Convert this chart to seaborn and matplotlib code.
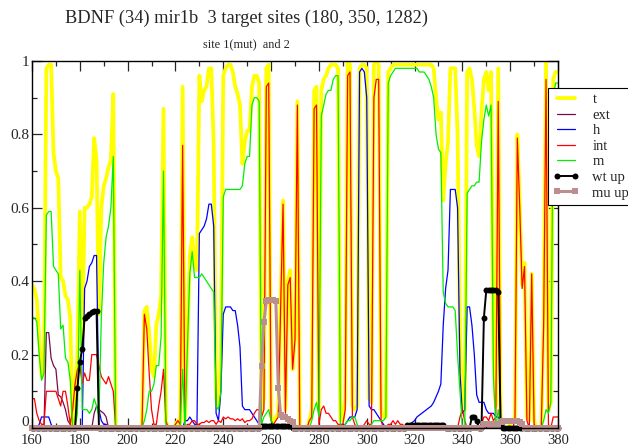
import numpy as np
import pandas as pd
import seaborn as sns
import matplotlib.pyplot as plt
from matplotlib.ticker import MultipleLocator, FuncFormatter
from matplotlib.transforms import offset_copy

# position along the sequence, one value per step (160 ... 380)
x = list(range(160, 381))

# t (total)
t = [
    0.39, 0.38, 0.35, 0.25, 0.14, 0.16, 0.98, 0.99, 0.99, 0.75,   # 160
    0.70, 0.68, 0.41, 0.40, 0.36, 0.35, 0.30, 0.0, 0.12, 0.20,    # 170
    0.59, 0.22, 0.60, 0.60, 0.61, 0.63, 0.79, 0.73, 0.31, 0.60,   # 180
    0.66, 0.68, 0.71, 0.73, 0.91, 0.0, 0.0, 0.0, 0.0, 0.0,        # 190
    0.0, 0.0, 0.0, 0.0, 0.0, 0.0, 0.0, 0.32, 0.33, 0.26,          # 200
    0.16, 0.14, 0.28, 0.31, 0.36, 0.87, 0.02, 0.0, 0.0, 0.0,      # 210
    0.01, 0.02, 0.01, 0.93, 0.02, 0.25, 0.47, 0.52, 0.44, 0.43,   # 220
    0.96, 0.89, 0.92, 0.93, 0.98, 0.98, 0.77, 0.08, 0.06, 0.20,   # 230
    0.96, 0.98, 0.99, 0.99, 0.97, 0.93, 0.91, 0.88, 0.72, 0.78,   # 240
    0.81, 0.81, 0.93, 0.96, 0.96, 0.94, 0.04, 0.08, 0.98, 0.99,   # 250
    0.03, 0.02, 0.03, 0.04, 0.35, 0.62, 0.05, 0.40, 0.43, 0.16,   # 260
    0.25, 0.89, 0.0, 0.0, 0.0, 0.0, 0.02, 0.05, 0.92, 0.93,       # 270
    0.05, 0.92, 0.95, 0.96, 0.98, 0.99, 0.99, 0.99, 0.98, 0.02,   # 280
    0.02, 0.08, 1.0, 0.99, 0.06, 0.05, 0.06, 0.98, 0.99, 0.99,    # 290
    0.98, 0.08, 0.07, 0.99, 1.0, 0.99, 0.05, 0.03, 0.03, 0.97,    # 300
    0.98, 0.99, 0.99, 0.99, 0.99, 0.99, 0.99, 0.99, 0.99, 0.99,   # 310
    0.99, 0.99, 0.99, 0.99, 0.99, 0.99, 0.99, 0.99, 0.98, 0.90,   # 320
    0.84, 0.86, 0.62, 0.72, 0.78, 0.98, 0.98, 0.98, 0.80, 0.25,   # 330
    0.06, 0.05, 0.97, 0.98, 0.95, 0.87, 0.77, 0.74, 0.86, 0.95,   # 340
    0.97, 0.92, 0.97, 0.20, 0.06, 0.98, 0.03, 0.0, 0.0, 0.0,      # 350
    0.01, 0.02, 0.03, 0.80, 0.61, 0.39, 0.45, 0.03, 0.02, 0.42,   # 360
    0.02, 0.0, 0.0, 0.0, 0.30, 1.0, 0.05, 0.07, 0.95, 0.97,       # 370
    0.97,
]

ext = [
    0.0, 0.0, 0.0, 0.0, 0.0, 0.0, 0.26, 0.26, 0.19, 0.17,
    0.16, 0.09, 0.085, 0.07, 0.05, 0.02, 0.01, 0.0, 0.0, 0.0,
    0.0, 0.0, 0.0, 0.0, 0.0, 0.0, 0.04, 0.06, 0.05, 0.045,
    0.04, 0.03, 0.0, 0.0, 0.0, 0.0, 0.0, 0.0, 0.0, 0.0,
    0.0, 0.0, 0.0, 0.0, 0.0, 0.0, 0.0, 0.0, 0.0, 0.0,
    0.0, 0.0, 0.0, 0.0, 0.0, 0.0, 0.0, 0.0, 0.0, 0.0,
    0.0, 0.0, 0.0, 0.0, 0.0, 0.0, 0.0, 0.0, 0.0, 0.0,
    0.0, 0.0, 0.0, 0.0, 0.0, 0.0, 0.0, 0.0, 0.0, 0.0,
    0.0, 0.0, 0.0, 0.0, 0.0, 0.0, 0.0, 0.0, 0.0, 0.0,
    0.0, 0.0, 0.0, 0.0, 0.0, 0.0, 0.0, 0.0, 0.0, 0.0,
    0.0, 0.0, 0.0, 0.0, 0.0, 0.0, 0.0, 0.0, 0.0, 0.0,
    0.0, 0.0, 0.0, 0.0, 0.0, 0.0, 0.0, 0.0, 0.0, 0.0,
    0.0, 0.0, 0.0, 0.0, 0.0, 0.0, 0.0, 0.0, 0.0, 0.0,
    0.0, 0.0, 0.0, 0.0, 0.0, 0.0, 0.0, 0.0, 0.0, 0.0,
    0.0, 0.0, 0.0, 0.0, 0.0, 0.0, 0.0, 0.0, 0.0, 0.0,
    0.0, 0.0, 0.0, 0.0, 0.0, 0.0, 0.0, 0.0, 0.0, 0.0,
    0.0, 0.0, 0.0, 0.0, 0.0, 0.0, 0.0, 0.0, 0.0, 0.0,
    0.0, 0.0, 0.0, 0.0, 0.0, 0.0, 0.0, 0.0, 0.0, 0.0,
    0.0, 0.0, 0.0, 0.0, 0.0, 0.0, 0.0, 0.0, 0.0, 0.0,
    0.0, 0.0, 0.0, 0.0, 0.0, 0.0, 0.0, 0.0, 0.0, 0.0,
    0.0, 0.0, 0.0, 0.0, 0.0, 0.0, 0.0, 0.0, 0.0, 0.0,
    0.0, 0.0, 0.0, 0.0, 0.0, 0.0, 0.0, 0.0, 0.0, 0.0,
    0.0,
]

h = [
    0.0, 0.0, 0.0, 0.01, 0.03, 0.03, 0.03, 0.03, 0.01, 0.0,
    0.0, 0.0, 0.0, 0.0, 0.0, 0.0, 0.0, 0.0, 0.0, 0.0,
    0.0, 0.0, 0.38, 0.40, 0.44, 0.45, 0.47, 0.47, 0.05, 0.02,
    0.01, 0.01, 0.0, 0.0, 0.0, 0.0, 0.0, 0.0, 0.0, 0.0,
    0.0, 0.0, 0.0, 0.0, 0.0, 0.0, 0.0, 0.0, 0.0, 0.0,
    0.0, 0.0, 0.0, 0.0, 0.0, 0.0, 0.0, 0.0, 0.0, 0.0,
    0.0, 0.0, 0.0, 0.0, 0.02, 0.02, 0.03, 0.02, 0.01, 0.01,
    0.53, 0.54, 0.55, 0.57, 0.61, 0.61, 0.55, 0.04, 0.02, 0.10,
    0.31, 0.33, 0.33, 0.33, 0.32, 0.32, 0.28, 0.22, 0.06, 0.05,
    0.05, 0.05, 0.04, 0.03, 0.02, 0.01, 0.0, 0.0, 0.0, 0.0,
    0.0, 0.0, 0.0, 0.0, 0.0, 0.0, 0.0, 0.0, 0.0, 0.0,
    0.0, 0.0, 0.0, 0.0, 0.0, 0.0, 0.0, 0.0, 0.0, 0.0,
    0.0, 0.0, 0.0, 0.0, 0.0, 0.0, 0.0, 0.0, 0.0, 0.0,
    0.0, 0.01, 0.02, 0.03, 0.03, 0.03, 0.05, 0.97, 0.98, 0.97,
    0.90, 0.06, 0.05, 0.05, 0.04, 0.03, 0.02, 0.01, 0.0, 0.0,
    0.0, 0.0, 0.0, 0.0, 0.0, 0.0, 0.0, 0.005, 0.01, 0.015,
    0.02, 0.03, 0.035, 0.04, 0.045, 0.05, 0.055, 0.06, 0.07, 0.085,
    0.10, 0.12, 0.28, 0.38, 0.43, 0.65, 0.65, 0.65, 0.60, 0.15,
    0.04, 0.05, 0.33, 0.33, 0.28, 0.20, 0.09, 0.07, 0.07, 0.07,
    0.05, 0.04, 0.04, 0.04, 0.03, 0.03, 0.02, 0.0, 0.0, 0.0,
    0.0, 0.0, 0.0, 0.0, 0.0, 0.0, 0.0, 0.0, 0.0, 0.0,
    0.0, 0.0, 0.0, 0.0, 0.0, 0.0, 0.0, 0.0, 0.0, 0.0,
    0.0,
]

int_ = [
    0.08, 0.08, 0.04, 0.02, 0.01, 0.01, 0.10, 0.10, 0.10, 0.10,
    0.10, 0.08, 0.06, 0.10, 0.10, 0.06, 0.01, 0.05, 0.12, 0.16,
    0.17, 0.12, 0.15, 0.13, 0.13, 0.20, 0.20, 0.20, 0.17, 0.14,
    0.13, 0.12, 0.14, 0.12, 0.10, 0.0, 0.0, 0.0, 0.0, 0.0,
    0.0, 0.0, 0.0, 0.0, 0.0, 0.0, 0.0, 0.31, 0.27, 0.15,
    0.05, 0.01, 0.01, 0.06, 0.10, 0.16, 0.02, 0.0, 0.0, 0.0,
    0.01, 0.02, 0.01, 0.77, 0.0, 0.01, 0.01, 0.02, 0.02, 0.01,
    0.01, 0.015, 0.015, 0.02, 0.015, 0.02, 0.02, 0.01, 0.02, 0.015,
    0.03, 0.025, 0.03, 0.025, 0.025, 0.02, 0.025, 0.02, 0.025, 0.015,
    0.02, 0.02, 0.025, 0.04, 0.05, 0.05, 0.03, 0.05, 0.93, 0.94,
    0.02, 0.01, 0.02, 0.03, 0.33, 0.61, 0.04, 0.39, 0.41, 0.16,
    0.24, 0.88, 0.0, 0.0, 0.0, 0.0, 0.02, 0.03, 0.87, 0.88,
    0.01, 0.05, 0.06, 0.04, 0.04, 0.03, 0.02, 0.02, 0.01, 0.01,
    0.01, 0.05, 0.96, 0.97, 0.03, 0.01, 0.0, 0.0, 0.0, 0.01,
    0.02, 0.01, 0.01, 0.90, 0.95, 0.95, 0.02, 0.0, 0.0, 0.01,
    0.01, 0.02, 0.01, 0.02, 0.01, 0.01, 0.0, 0.0, 0.0, 0.0,
    0.0, 0.0, 0.0, 0.0, 0.0, 0.0, 0.0, 0.0, 0.0, 0.0,
    0.0, 0.0, 0.0, 0.0, 0.0, 0.0, 0.0, 0.0, 0.0, 0.03,
    0.05, 0.02, 0.0, 0.0, 0.0, 0.0, 0.0, 0.0, 0.01, 0.03,
    0.03, 0.02, 0.04, 0.02, 0.03, 0.89, 0.01, 0.0, 0.0, 0.0,
    0.0, 0.0, 0.02, 0.79, 0.60, 0.38, 0.44, 0.02, 0.0, 0.42,
    0.01, 0.0, 0.0, 0.0, 0.28, 0.95, 0.01, 0.0, 0.03, 0.03,
    0.03,
]

m = [
    0.30, 0.30, 0.29, 0.20, 0.13, 0.15, 0.58, 0.59, 0.59, 0.44,
    0.43, 0.42, 0.27, 0.28, 0.19, 0.18, 0.13, 0.0, 0.0, 0.04,
    0.43, 0.05, 0.05, 0.05, 0.04, 0.05, 0.08, 0.06, 0.03, 0.30,
    0.45, 0.52, 0.55, 0.60, 0.74, 0.0, 0.0, 0.0, 0.0, 0.0,
    0.0, 0.0, 0.0, 0.0, 0.0, 0.0, 0.0, 0.02, 0.05, 0.10,
    0.10, 0.12, 0.17, 0.17, 0.25, 0.70, 0.0, 0.0, 0.0, 0.0,
    0.0, 0.0, 0.0, 0.16, 0.0, 0.22, 0.42, 0.48, 0.41, 0.41,
    0.41, 0.42, 0.41, 0.40, 0.39, 0.38, 0.37, 0.06, 0.05, 0.10,
    0.63, 0.65, 0.65, 0.65, 0.65, 0.65, 0.65, 0.65, 0.66, 0.72,
    0.74, 0.74, 0.88, 0.90, 0.90, 0.89, 0.01, 0.03, 0.04, 0.05,
    0.02, 0.01, 0.0, 0.0, 0.0, 0.0, 0.0, 0.0, 0.0, 0.0,
    0.0, 0.0, 0.0, 0.0, 0.0, 0.0, 0.0, 0.02, 0.05, 0.07,
    0.03, 0.85, 0.88, 0.91, 0.92, 0.92, 0.95, 0.96, 0.96, 0.0,
    0.0, 0.01, 0.02, 0.02, 0.03, 0.03, 0.01, 0.0, 0.0, 0.0,
    0.0, 0.0, 0.01, 0.02, 0.02, 0.02, 0.02, 0.02, 0.03, 0.94,
    0.96, 0.97, 0.98, 0.98, 0.98, 0.98, 0.98, 0.98, 0.98, 0.98,
    0.98, 0.98, 0.97, 0.97, 0.97, 0.96, 0.95, 0.93, 0.90, 0.80,
    0.76, 0.75, 0.37, 0.34, 0.33, 0.33, 0.33, 0.32, 0.20, 0.10,
    0.0, 0.0, 0.64, 0.65, 0.66, 0.66, 0.67, 0.67, 0.78, 0.84,
    0.88, 0.85, 0.88, 0.14, 0.0, 0.05, 0.0, 0.0, 0.0, 0.0,
    0.0, 0.0, 0.0, 0.0, 0.0, 0.0, 0.0, 0.0, 0.0, 0.0,
    0.0, 0.0, 0.0, 0.0, 0.02, 0.05, 0.04, 0.07, 0.90, 0.94,
    0.94,
]

wt_up = [
    0.0, 0.0, 0.0, 0.0, 0.0, 0.0, 0.0, 0.0, 0.0, 0.0,
    0.0, 0.0, 0.0, 0.0, 0.0, 0.0, 0.0, 0.0, 0.0, 0.11,
    0.18, 0.215, 0.30, 0.305, 0.31, 0.315, 0.32, 0.32, 0.0, 0.0,
    0.0, 0.0, 0.0, 0.0, 0.0, 0.0, 0.0, 0.0, 0.0, 0.0,
    0.0, 0.0, 0.0, 0.0, 0.0, 0.0, 0.0, 0.0, 0.0, 0.0,
    0.0, 0.0, 0.0, 0.0, 0.0, 0.0, 0.0, 0.0, 0.0, 0.0,
    0.0, 0.0, 0.0, 0.0, 0.0, 0.0, 0.0, 0.0, 0.0, 0.0,
    0.0, 0.0, 0.0, 0.0, 0.0, 0.0, 0.0, 0.0, 0.0, 0.0,
    0.0, 0.0, 0.0, 0.0, 0.0, 0.0, 0.0, 0.0, 0.0, 0.0,
    0.0, 0.0, 0.0, 0.0, 0.0, 0.0, 0.006, 0.006, 0.006, 0.006,
    0.006, 0.006, 0.006, 0.006, 0.006, 0.006, 0.006, 0.006, 0.006, 0.0,
    0.0, 0.0, 0.0, 0.0, 0.0, 0.0, 0.0, 0.0, 0.0, 0.0,
    0.0, 0.0, 0.0, 0.0, 0.0, 0.0, 0.0, 0.0, 0.0, 0.0,
    0.0, 0.0, 0.0, 0.0, 0.0, 0.0, 0.0, 0.0, 0.0, 0.0,
    0.0, 0.0, 0.0, 0.0, 0.0, 0.0, 0.0, 0.0, 0.0, 0.0,
    0.0, 0.0, 0.0, 0.0, 0.0, 0.0, 0.0, 0.008, 0.008, 0.008,
    0.008, 0.008, 0.008, 0.008, 0.008, 0.008, 0.008, 0.008, 0.008, 0.008,
    0.008, 0.008, 0.008, 0.0, 0.0, 0.0, 0.0, 0.0, 0.0, 0.0,
    0.0, 0.0, 0.0, 0.0, 0.03, 0.03, 0.02, 0.0, 0.0, 0.30,
    0.375, 0.375, 0.375, 0.375, 0.375, 0.37, 0.01, 0.0, 0.0, 0.0,
    0.0, 0.0, 0.0, 0.0, 0.0, 0.0, 0.0, 0.0, 0.0, 0.0,
    0.0, 0.0, 0.0, 0.0, 0.0, 0.0, 0.0, 0.0, 0.0, 0.0,
    0.0,
]

mu_up = [
    0.0, 0.0, 0.0, 0.0, 0.0, 0.0, 0.0, 0.0, 0.0, 0.0,
    0.0, 0.0, 0.0, 0.0, 0.0, 0.0, 0.0, 0.0, 0.0, 0.0,
    0.0, 0.0, 0.0, 0.0, 0.0, 0.0, 0.0, 0.0, 0.0, 0.0,
    0.0, 0.0, 0.0, 0.0, 0.0, 0.0, 0.0, 0.0, 0.0, 0.0,
    0.0, 0.0, 0.0, 0.0, 0.0, 0.0, 0.0, 0.0, 0.0, 0.0,
    0.0, 0.0, 0.0, 0.0, 0.0, 0.0, 0.0, 0.0, 0.0, 0.0,
    0.0, 0.0, 0.0, 0.0, 0.0, 0.0, 0.0, 0.0, 0.0, 0.0,
    0.0, 0.0, 0.0, 0.0, 0.0, 0.0, 0.0, 0.0, 0.0, 0.0,
    0.0, 0.0, 0.0, 0.0, 0.0, 0.0, 0.0, 0.0, 0.0, 0.0,
    0.0, 0.0, 0.0, 0.0, 0.0, 0.0, 0.17, 0.29, 0.345, 0.35,
    0.35, 0.35, 0.345, 0.11, 0.035, 0.03, 0.03, 0.025, 0.02, 0.015,
    0.0, 0.0, 0.0, 0.0, 0.0, 0.0, 0.0, 0.0, 0.0, 0.0,
    0.0, 0.0, 0.0, 0.0, 0.0, 0.0, 0.0, 0.0, 0.0, 0.0,
    0.0, 0.0, 0.0, 0.0, 0.0, 0.0, 0.0, 0.0, 0.0, 0.0,
    0.0, 0.0, 0.0, 0.0, 0.0, 0.0, 0.0, 0.0, 0.0, 0.0,
    0.0, 0.0, 0.0, 0.0, 0.0, 0.0, 0.0, 0.0, 0.0, 0.0,
    0.0, 0.0, 0.0, 0.0, 0.0, 0.0, 0.0, 0.0, 0.0, 0.0,
    0.0, 0.0, 0.0, 0.0, 0.0, 0.0, 0.0, 0.0, 0.0, 0.0,
    0.0, 0.0, 0.0, 0.0, 0.0, 0.0, 0.0, 0.0, 0.0, 0.012,
    0.012, 0.012, 0.012, 0.012, 0.012, 0.012, 0.015, 0.02, 0.02, 0.02,
    0.02, 0.02, 0.02, 0.02, 0.015, 0.01, 0.0, 0.0, 0.0, 0.0,
    0.0, 0.0, 0.0, 0.0, 0.0, 0.0, 0.0, 0.0, 0.0, 0.0,
    0.0,
]

labels = ["t", "ext", "h", "int", "m", "wt up", "mu up"]
title = "BDNF (34) mir1b  3 target sites (180, 350, 1282)"
subtitle = "site 1(mut)  and 2"

sns.set_style("ticks")
plt.rcParams["font.family"] = ["Liberation Serif", "DejaVu Serif"]

fig = plt.figure(figsize=(6.28, 4.46), dpi=100)
ax = fig.add_axes([32 / 628, 1 - 428 / 446, 526 / 628, 367 / 446])

# colour, width, marker settings per series
styles = [
    dict(color="#ffff00", linewidth=2.7),
    dict(color="#7a0a50", linewidth=0.9),
    dict(color="#0000ff", linewidth=0.9),
    dict(color="#ff0000", linewidth=0.9),
    dict(color="#00ee00", linewidth=0.9),
    dict(color="black", linewidth=1.4, marker="o", markersize=4.3,
         markeredgewidth=0, clip_on=False),
    dict(color="#bc8f8f", linewidth=2.2, marker="s", markersize=3.8,
         markeredgewidth=0, clip_on=False),
]
values = [t, ext, h, int_, m, wt_up, mu_up]

for name, vals, st in zip(labels, values, styles):
    sns.lineplot(x=x, y=vals, ax=ax, label=name, errorbar=None, **st)

ax.set_xlim(160, 380)
ax.set_ylim(0, 1)
ax.set_xlabel("")
ax.set_ylabel("")
ax.xaxis.set_major_locator(MultipleLocator(20))
ax.xaxis.set_minor_locator(MultipleLocator(10))
ax.yaxis.set_major_locator(MultipleLocator(0.2))
ax.yaxis.set_minor_locator(MultipleLocator(0.1))
# the "0" label is written separately below, nudged up off the "160"
ax.yaxis.set_major_formatter(
    FuncFormatter(lambda v, p: "" if abs(v) < 1e-9 else "%g" % round(v, 2)))
ax.tick_params(which="both", direction="in", top=True, right=True,
               width=0.9, labelsize=11)
ax.tick_params(axis="x", pad=4, labelsize=10.5)
ax.tick_params(axis="y", pad=2)
ax.tick_params(which="major", length=7)
ax.tick_params(which="minor", length=3.5)
for sp in ax.spines.values():
    sp.set_linewidth(1.0)
    sp.set_color("black")

ax.text(0, 0, "0", fontsize=11, ha="right", va="center",
        transform=offset_copy(ax.transAxes, fig=fig, x=-3, y=5, units="dots"))

handles, labs = ax.get_legend_handles_labels()
leg = ax.legend(handles, labs, loc="upper left",
                bbox_to_anchor=(548 / 628, 1 - 88 / 446),
                bbox_transform=fig.transFigure, borderaxespad=0,
                frameon=True, fancybox=False, framealpha=1,
                edgecolor="black", fontsize=10.5, handlelength=1.8,
                handletextpad=0.9, labelspacing=0.16, borderpad=0.35,
                numpoints=2)
leg.get_frame().set_linewidth(0.8)

fig.text(246 / 628, 1 - 23 / 446, title, ha="center", va="baseline",
         fontsize=13.2)
fig.text(246 / 628, 1 - 47.5 / 446, subtitle, ha="center", va="baseline",
         fontsize=8.8)

fig.savefig("out.png", dpi=100)
